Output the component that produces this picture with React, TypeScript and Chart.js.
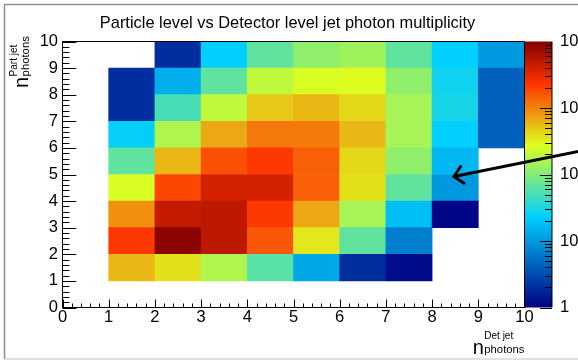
import React, { useEffect, useRef } from "react";
import { Chart, registerables } from "chart.js";

Chart.register(...registerables);

// ---------------- data ----------------
const TITLE = "Particle level vs Detector level jet photon multiplicity";
const X_TITLE_MAIN = "n";
const X_TITLE_SUP = "Det jet";
const X_TITLE_SUB = "photons";
const Y_TITLE_MAIN = "n";
const Y_TITLE_SUP = "Part jet";
const Y_TITLE_SUB = "photons";

const AXIS_MIN = 0;
const AXIS_MAX = 10;

// lower edges of the detector-level (x) and particle-level (y) bins
const DET_BIN_LOW = [1, 2, 3, 4, 5, 6, 7, 8, 9];
const PART_BIN_LOW = [1, 2, 3, 4, 5, 6, 7, 8, 9];

// counts per particle-level row, columns follow DET_BIN_LOW (null = empty bin)
const countsPart1 = [575, 380, 165, 62, 12.7, 2, 1.2, null, null];
const countsPart2 = [2180, 9000, 5000, 1580, 350, 67, 6.9, null, null];
const countsPart3 = [870, 4600, 5000, 2180, 680, 150, 18, 1.1, null];
const countsPart4 = [258, 1860, 3800, 3800, 1450, 380, 67, 10, null];
const countsPart5 = [67, 575, 1690, 2180, 1450, 415, 115, 16, null];
const countsPart6 = [24, 165, 680, 1120, 1100, 575, 150, 23, 4.3];
const countsPart7 = [2, 51, 198, 490, 575, 415, 150, 30, 4.3];
const countsPart8 = [2, 14, 67, 198, 258, 280, 115, 27, 4.3];
const countsPart9 = [null, 2, 23, 67, 115, 138, 67, 23, 10];

const COUNT_ROWS = [
  countsPart1, countsPart2, countsPart3, countsPart4, countsPart5,
  countsPart6, countsPart7, countsPart8, countsPart9,
];

// colour (z) axis
const Z_MIN = 1;
const Z_MAX = 10000;
const Z_DECADES = [1, 10, 100, 1000, 10000];
const Z_LABEL_BASE = ["1", "10", "10", "10", "10"];
const Z_LABEL_EXP = ["", "", "2", "3", "4"];

// palette definition (stops, r, g, b)
const PAL_STOPS = [0.0, 0.34, 0.61, 0.84, 1.0];
const PAL_R = [0.0, 0.0, 0.87, 1.0, 0.51];
const PAL_G = [0.0, 0.81, 1.0, 0.2, 0.0];
const PAL_B = [0.51, 1.0, 0.12, 0.0, 0.0];

// ---------------- helpers ----------------
const FONT = "'Liberation Sans', Arial, Helvetica, sans-serif";

function paletteAt(t: number): string {
  const tt = Math.max(0, Math.min(1, t));
  let i = 0;
  while (i < PAL_STOPS.length - 2 && tt > PAL_STOPS[i + 1]) i++;
  const s = (tt - PAL_STOPS[i]) / (PAL_STOPS[i + 1] - PAL_STOPS[i]);
  const ch = (a: number[]) => Math.round(255 * (a[i] + s * (a[i + 1] - a[i])));
  return `rgb(${ch(PAL_R)},${ch(PAL_G)},${ch(PAL_B)})`;
}

function colorFor(v: number): string {
  const t = (Math.log10(v) - Math.log10(Z_MIN)) / (Math.log10(Z_MAX) - Math.log10(Z_MIN));
  return paletteAt(t);
}

function buildDatasets() {
  return COUNT_ROWS.map((row, r) => {
    const y0 = PART_BIN_LOW[r];
    const data: any[] = [];
    const colors: string[] = [];
    row.forEach((v, c) => {
      if (v == null) return;
      const x0 = DET_BIN_LOW[c];
      data.push({ x: x0 + 0.5, y: [y0, y0 + 1], v });
      colors.push(colorFor(v));
    });
    return {
      type: "bar" as const,
      label: `part ${y0}`,
      data,
      backgroundColor: colors,
      borderWidth: 0,
      barPercentage: 1,
      categoryPercentage: 1,
      grouped: false,
    };
  });
}

const N_SIZE = 20;
const SUP_SIZE = 10;
const SUB_SIZE = 11.3;

const rootStyle = {
  id: "rootStyle",
  beforeDraw(chart: any) {
    const { ctx, width, height } = chart;
    ctx.save();
    ctx.fillStyle = "#ffffff";
    ctx.fillRect(0, 0, width, height);
    // canvas border (cropped ROOT canvas)
    ctx.lineWidth = 1.5;
    ctx.strokeStyle = "#8f8f8f";
    ctx.beginPath();
    ctx.moveTo(4.5, 359);
    ctx.lineTo(4.5, 4.5);
    ctx.lineTo(width, 4.5);
    ctx.stroke();
    ctx.strokeStyle = "#d6d6d6";
    ctx.beginPath();
    ctx.moveTo(4.5, 359);
    ctx.lineTo(width, 359);
    ctx.stroke();
    ctx.restore();
  },
  afterDatasetsDraw(chart: any) {
    const { ctx, chartArea: ca, scales } = chart;
    const xs = scales.x;
    const ys = scales.y;
    const zs = scales.z;
    ctx.save();
    ctx.strokeStyle = "#000";
    ctx.lineWidth = 1;
    // top & right frame
    ctx.beginPath();
    ctx.moveTo(ca.left, ca.top);
    ctx.lineTo(ca.right, ca.top);
    ctx.lineTo(ca.right, ca.bottom);
    ctx.stroke();

    // inward ticks: x
    const xPlotH = ca.bottom - ca.top;
    const xPlotW = ca.right - ca.left;
    ctx.beginPath();
    for (let i = 0; i <= (AXIS_MAX - AXIS_MIN) * 5; i++) {
      const v = AXIS_MIN + i / 5;
      const px = Math.round(xs.getPixelForValue(v)) + 0.5;
      const len = i % 5 === 0 ? 0.03 * xPlotH : 0.015 * xPlotH;
      ctx.moveTo(px, ca.bottom);
      ctx.lineTo(px, ca.bottom - len);
    }
    // inward ticks: y
    for (let i = 0; i <= (AXIS_MAX - AXIS_MIN) * 5; i++) {
      const v = AXIS_MIN + i / 5;
      const py = Math.round(ys.getPixelForValue(v)) + 0.5;
      const len = i % 5 === 0 ? 0.03 * xPlotW : 0.015 * xPlotW;
      ctx.moveTo(ca.left, py);
      ctx.lineTo(ca.left + len, py);
    }
    ctx.stroke();

    // colour palette
    const palL = ca.right + 0.5;
    const palR = ca.right + 27.5;
    const zTop = zs.getPixelForValue(Z_MAX);
    const zBot = zs.getPixelForValue(Z_MIN);
    const grad = ctx.createLinearGradient(0, zBot, 0, zTop);
    PAL_STOPS.forEach((s) => grad.addColorStop(s, paletteAt(s)));
    ctx.fillStyle = grad;
    ctx.fillRect(palL, zTop, palR - palL, zBot - zTop);
    // palette axis line
    ctx.beginPath();
    ctx.moveTo(palR, zTop);
    ctx.lineTo(palR, zBot);
    // palette ticks
    for (let d = 0; d < Z_DECADES.length - 1; d++) {
      for (let k = 1; k <= 9; k++) {
        const v = Z_DECADES[d] * k;
        const py = Math.round(zs.getPixelForValue(v)) + 0.5;
        const len = k === 1 ? 12 : 7;
        ctx.moveTo(palR, py);
        ctx.lineTo(palR - len, py);
      }
    }
    ctx.stroke();

    // palette labels
    ctx.fillStyle = "#000";
    ctx.textAlign = "left";
    ctx.textBaseline = "middle";
    Z_DECADES.forEach((v, i) => {
      const py = zs.getPixelForValue(v);
      ctx.font = `16.5px ${FONT}`;
      const x0 = palR + 8;
      ctx.fillText(Z_LABEL_BASE[i], x0, py);
      if (Z_LABEL_EXP[i]) {
        const w = ctx.measureText(Z_LABEL_BASE[i]).width;
        ctx.font = `${SUB_SIZE}px ${FONT}`;
        ctx.fillText(Z_LABEL_EXP[i], x0 + w + 1, py - 7);
      }
    });
    ctx.restore();
  },
  afterDraw(chart: any) {
    const { ctx, chartArea: ca } = chart;
    ctx.save();
    ctx.fillStyle = "#000";
    ctx.textBaseline = "alphabetic";
    // title
    ctx.font = `16.4px ${FONT}`;
    ctx.textAlign = "center";
    ctx.fillText(TITLE, 287.5, 28);

    // x axis title (right aligned to axis end)
    ctx.textAlign = "left";
    ctx.font = `${SUB_SIZE}px ${FONT}`;
    const subW = ctx.measureText(X_TITLE_SUB).width;
    ctx.font = `${N_SIZE}px ${FONT}`;
    const nW = ctx.measureText(X_TITLE_MAIN).width;
    const xStart = ca.right - subW - nW - 0.5;
    const xBase = 354;
    ctx.fillText(X_TITLE_MAIN, xStart, xBase);
    ctx.font = `${SUP_SIZE}px ${FONT}`;
    ctx.fillText(X_TITLE_SUP, xStart + nW + 0.5, xBase - 15);
    ctx.font = `${SUB_SIZE}px ${FONT}`;
    ctx.fillText(X_TITLE_SUB, xStart + nW + 0.5, xBase - 1.5);

    // y axis title (rotated, reads bottom to top)
    ctx.save();
    ctx.translate(27.5, 88);
    ctx.rotate(-Math.PI / 2);
    ctx.font = `${N_SIZE}px ${FONT}`;
    ctx.fillText(Y_TITLE_MAIN, 0, 0);
    ctx.font = `${SUP_SIZE}px ${FONT}`;
    ctx.fillText(Y_TITLE_SUP, nW + 0.5, -11);
    ctx.font = `${SUB_SIZE}px ${FONT}`;
    ctx.fillText(Y_TITLE_SUB, nW + 0.5, 1.5);
    ctx.restore();

    // arrow
    const tipX = 454;
    const tipY = 176.5;
    const tailX = 600;
    const tailY = 147;
    const ang = Math.atan2(tailY - tipY, tailX - tipX);
    ctx.strokeStyle = "#000";
    ctx.lineWidth = 3;
    ctx.lineCap = "round";
    ctx.beginPath();
    ctx.moveTo(tailX, tailY);
    ctx.lineTo(tipX, tipY);
    ctx.moveTo(tipX + 12 * Math.cos(ang - Math.PI / 4), tipY + 12 * Math.sin(ang - Math.PI / 4));
    ctx.lineTo(tipX, tipY);
    ctx.lineTo(tipX + 12 * Math.cos(ang + Math.PI / 4), tipY + 12 * Math.sin(ang + Math.PI / 4));
    ctx.stroke();
    ctx.restore();
  },
};

export default function App() {
  const ref = useRef<HTMLCanvasElement | null>(null);
  useEffect(() => {
    if (!ref.current) return;
    const chart = new Chart(ref.current, {
      type: "bar",
      data: { datasets: buildDatasets() as any },
      options: {
        animation: false,
        responsive: false,
        devicePixelRatio: 1,
        events: [],
        layout: { padding: { left: 0, top: 41.5, right: 53.5, bottom: 0 } },
        plugins: { legend: { display: false }, tooltip: { enabled: false }, title: { display: false } },
        scales: {
          x: {
            type: "linear",
            min: AXIS_MIN,
            max: AXIS_MAX,
            offset: false,
            grid: { display: false, drawTicks: false, offset: false },
            border: { display: true, color: "#000", width: 1 },
            ticks: { stepSize: 1, padding: 0, color: "#000", font: { family: FONT, size: 16.5 }, maxRotation: 0, autoSkip: false },
            afterFit: (s: any) => { s.height = 53.5; },
          },
          y: {
            type: "linear",
            min: AXIS_MIN,
            max: AXIS_MAX,
            grid: { display: false, drawTicks: false },
            border: { display: true, color: "#000", width: 1 },
            ticks: { stepSize: 1, padding: 4.5, color: "#000", font: { family: FONT, size: 16.5 }, autoSkip: false },
            afterFit: (s: any) => { s.width = 62.5; },
          },
          z: {
            type: "logarithmic",
            position: "right",
            display: false,
            min: Z_MIN,
            max: Z_MAX,
          },
        },
      },
      plugins: [rootStyle],
    });
    return () => chart.destroy();
  }, []);
  return (
    <div style={{ position: "fixed", left: 0, top: 0, width: 578, height: 361, background: "#fff" }}>
      <canvas ref={ref} width={578} height={361} style={{ display: "block" }} />
    </div>
  );
}
